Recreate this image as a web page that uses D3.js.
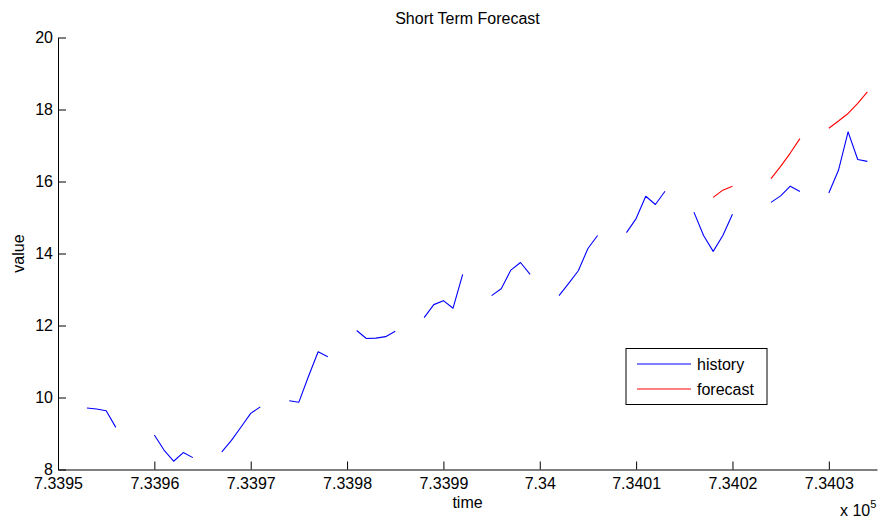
<!DOCTYPE html>
<html>
<head>
<meta charset="utf-8">
<script src="https://cdn.jsdelivr.net/npm/d3@7"></script>
<style>
  html, body { margin: 0; padding: 0; background: #fff; }
  svg { display: block; }
  text { font-family: "Liberation Sans", Arial, Helvetica, sans-serif; fill: #000; }
</style>
</head>
<body>
<svg id="chart" width="880" height="518"></svg>
<script>
// ---- data (MATLAB datenums, weekdays only; gaps = weekends/holidays) ----
const historyDates = [
  733953, 733954, 733955, 733956,
  733960, 733961, 733962, 733963, 733964,
  733967, 733968, 733969, 733970, 733971,
  733974, 733975, 733976, 733977, 733978,
  733981, 733982, 733983, 733984, 733985,
  733988, 733989, 733990, 733991, 733992,
  733995, 733996, 733997, 733998, 733999,
  734002, 734003, 734004, 734005, 734006,
  734009, 734010, 734011, 734012, 734013,
  734016, 734017, 734018, 734019, 734020,
  734024, 734025, 734026, 734027,
  734030, 734031, 734032, 734033, 734034
];
const historyValues = [
  9.71, 9.68, 9.63, 9.17,
  8.96, 8.54, 8.23, 8.47, 8.33,
  8.49, 8.81, 9.18, 9.56, 9.74,
  9.91, 9.87, 10.59, 11.27, 11.13,
  11.86, 11.64, 11.65, 11.69, 11.84,
  12.22, 12.58, 12.69, 12.48, 13.42,
  12.83, 13.02, 13.54, 13.75, 13.42,
  12.83, 13.17, 13.52, 14.14, 14.50,
  14.58, 14.97, 15.59, 15.36, 15.73,
  15.15, 14.50, 14.06, 14.50, 15.09,
  15.42, 15.60, 15.87, 15.72,
  15.68, 16.31, 17.38, 16.61, 16.56
];
const forecastDates = [
  734018, 734019, 734020,
  734024, 734025, 734026, 734027,
  734030, 734031, 734032, 734033, 734034
];
const forecastValues = [
  15.56, 15.76, 15.87,
  16.08, 16.42, 16.79, 17.19,
  17.48, 17.68, 17.89, 18.17, 18.49
];
const xTickValues = [733950, 733960, 733970, 733980, 733990, 734000, 734010, 734020, 734030];
const xTickLabels = ["7.3395", "7.3396", "7.3397", "7.3398", "7.3399", "7.34", "7.3401", "7.3402", "7.3403"];
const yTickValues = [8, 10, 12, 14, 16, 18, 20];
const xDomain = [733950, 734035];
const yDomain = [8, 20];
const seriesNames = ["history", "forecast"];
const seriesColors = ["#0000ff", "#ff0000"];

// ---- layout ----
const svg = d3.select("#chart");
const L = 58, R = 877, T = 37.5, B = 469.5;
const x = d3.scaleLinear().domain(xDomain).range([L, R]);
const y = d3.scaleLinear().domain(yDomain).range([B, T]);
const FS = 16;

// insert breaks where dates are not consecutive
function withGaps(dates, values) {
  const pts = [];
  for (let i = 0; i < dates.length; i++) {
    if (i > 0 && dates[i] - dates[i - 1] > 1) pts.push({ d: null, v: null });
    pts.push({ d: dates[i], v: values[i] });
  }
  return pts;
}

const line = d3.line()
  .defined(p => p.v !== null)
  .x(p => x(p.d))
  .y(p => y(p.v));

// axes
const xAxis = d3.axisBottom(x)
  .tickValues(xTickValues)
  .tickFormat((d, i) => xTickLabels[i])
  .tickSizeInner(-8).tickSizeOuter(0).tickPadding(8);
const gx = svg.append("g").attr("transform", `translate(0,${B})`).call(xAxis);

const yAxis = d3.axisLeft(y)
  .tickValues(yTickValues)
  .tickFormat(d3.format("d"))
  .tickSizeInner(-8).tickSizeOuter(0).tickPadding(5);
const gy = svg.append("g").attr("transform", `translate(${L},0)`).call(yAxis);

[gx, gy].forEach(g => {
  g.selectAll("path.domain").attr("stroke", "#000").attr("stroke-width", 1);
  g.selectAll(".tick line").attr("stroke", "#000");
  g.selectAll(".tick text")
    .style("font-family", '"Liberation Sans", Arial, sans-serif')
    .style("font-size", FS + "px").attr("fill", "#000");
});

// series
const series = [
  withGaps(historyDates, historyValues),
  withGaps(forecastDates, forecastValues)
];
svg.append("g").selectAll("path.series")
  .data(series)
  .join("path")
  .attr("class", "series")
  .attr("fill", "none")
  .attr("stroke", (d, i) => seriesColors[i])
  .attr("stroke-width", 1.1)
  .attr("stroke-linejoin", "round")
  .attr("d", line);

// title and labels
svg.append("text").attr("x", (L + R) / 2).attr("y", 24)
  .attr("text-anchor", "middle").style("font-size", FS + "px").text("Short Term Forecast");
svg.append("text").attr("x", (L + R) / 2).attr("y", 508)
  .attr("text-anchor", "middle").style("font-size", FS + "px").text("time");
svg.append("text").attr("transform", `translate(24,${(T + B) / 2}) rotate(-90)`)
  .attr("text-anchor", "middle").style("font-size", FS + "px").text("value");

// exponent
const ex = svg.append("text").attr("x", 840).attr("y", 516).style("font-size", FS + "px");
ex.append("tspan").text("x 10");
ex.append("tspan").attr("dy", -8).style("font-size", "11px").text("5");

// legend
const lg = svg.append("g").attr("transform", "translate(626,348.5)");
lg.append("rect").attr("width", 141).attr("height", 56)
  .attr("fill", "#fff").attr("stroke", "#000").attr("stroke-width", 1);
const items = lg.selectAll("g.item").data(seriesNames).join("g")
  .attr("class", "item")
  .attr("transform", (d, i) => `translate(0,${15.5 + i * 25})`);
items.append("line").attr("x1", 11).attr("x2", 65).attr("y1", 0).attr("y2", 0)
  .attr("stroke", (d, i) => seriesColors[i]).attr("stroke-width", 1);
items.append("text").attr("x", 71).attr("y", 0).attr("dy", "0.35em")
  .style("font-size", FS + "px").text(d => d);
</script>
</body>
</html>
